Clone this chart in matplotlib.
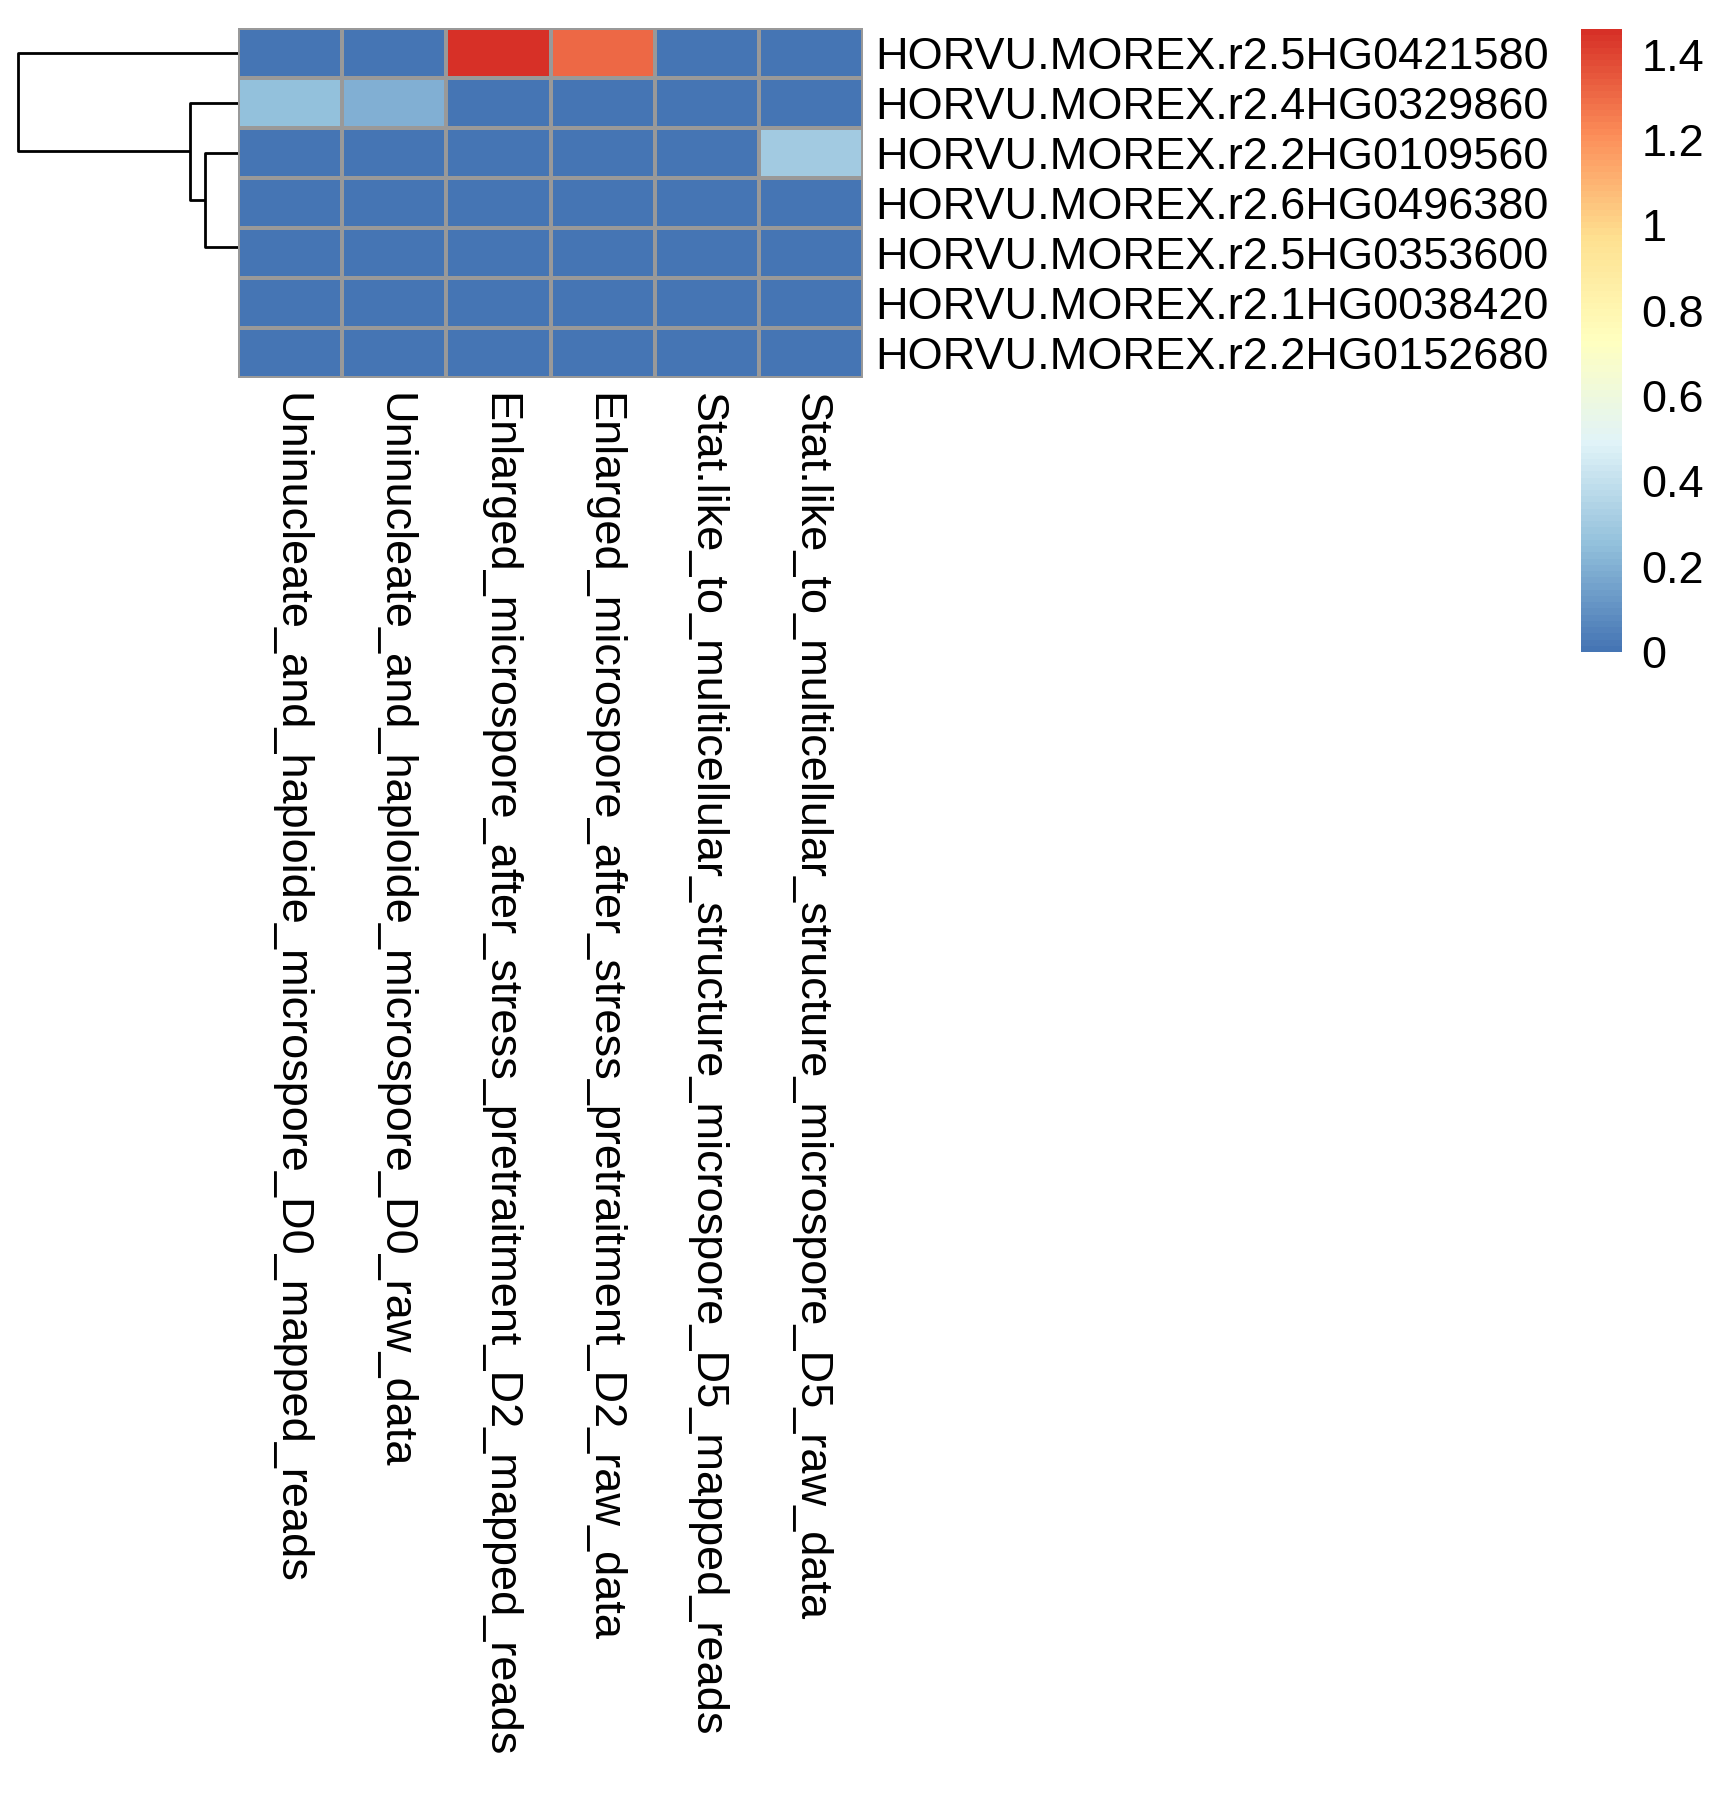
import numpy as np
import matplotlib
matplotlib.use("Agg")
import matplotlib.pyplot as plt
from matplotlib.colors import LinearSegmentedColormap

plt.rcParams["font.family"] = ["Liberation Sans", "DejaVu Sans"]

# Data (rows in displayed order)
genes = [
    "HORVU.MOREX.r2.5HG0421580",
    "HORVU.MOREX.r2.4HG0329860",
    "HORVU.MOREX.r2.2HG0109560",
    "HORVU.MOREX.r2.6HG0496380",
    "HORVU.MOREX.r2.5HG0353600",
    "HORVU.MOREX.r2.1HG0038420",
    "HORVU.MOREX.r2.2HG0152680",
]
samples = [
    "Uninucleate_and_haploide_microspore_D0_mapped_reads",
    "Uninucleate_and_haploide_microspore_D0_raw_data",
    "Enlarged_microspore_after_stress_pretraitment_D2_mapped_reads",
    "Enlarged_microspore_after_stress_pretraitment_D2_raw_data",
    "Stat.like_to_multicellular_structure_microspore_D5_mapped_reads",
    "Stat.like_to_multicellular_structure_microspore_D5_raw_data",
]
values = np.array([
    [0.00, 0.00, 1.46, 1.30, 0.00, 0.00],
    [0.25, 0.195, 0.00, 0.00, 0.00, 0.00],
    [0.00, 0.00, 0.00, 0.00, 0.00, 0.295],
    [0.00, 0.00, 0.00, 0.00, 0.00, 0.00],
    [0.00, 0.00, 0.00, 0.00, 0.00, 0.00],
    [0.00, 0.00, 0.00, 0.00, 0.00, 0.00],
    [0.00, 0.00, 0.00, 0.00, 0.00, 0.00],
])
# row tree: pairs of clusters merged in order (leaf ids 0..6, new ids from 7)
merges = [(5, 6), (4, 7), (3, 8), (2, 9), (1, 10), (0, 11)]

palette = ["#4575B4", "#91BFDB", "#E0F3F8", "#FFFFBF", "#FEE090", "#FC8D59", "#D73027"]
cmap = LinearSegmentedColormap.from_list("rdylbu", palette, N=100)

W, H = 1722, 1797
fig = plt.figure(figsize=(W / 100, H / 100), dpi=100)


def px_axes(x0, y0, x1, y1):
    return fig.add_axes([x0 / W, 1 - y1 / H, (x1 - x0) / W, (y1 - y0) / H])


# -------------------------
# Heatmap
# -------------------------
ax = px_axes(238, 27.5, 863, 378)
nrow, ncol = values.shape
vmin, vmax = 0, values.max()
ax.pcolormesh(np.arange(ncol + 1), np.arange(nrow + 1), values, cmap=cmap,
              vmin=vmin, vmax=vmax, edgecolors="#999999", linewidth=1.6)
ax.set_xlim(0, ncol)
ax.set_ylim(nrow, 0)
for s in ax.spines.values():
    s.set_visible(False)
ax.yaxis.tick_right()
ax.set_yticks(np.arange(nrow) + 0.5)
ax.set_yticklabels(genes, fontsize=32.5)
ax.set_xticks(np.arange(ncol) + 0.5)
ax.set_xticklabels(samples, fontsize=32.5, rotation=270, ha="center", va="top")
ax.tick_params(length=0)
ax.tick_params(axis="y", pad=9)
ax.tick_params(axis="x", pad=11)

# -------------------------
# Row dendrogram (complete linkage heights)
# -------------------------
members = {i: [i] for i in range(nrow)}
pos = {i: i + 0.5 for i in range(nrow)}
hgt = {i: 0.0 for i in range(nrow)}
dax = px_axes(17, 27.5, 238, 378)
lines = []
for k, (a, b) in enumerate(merges):
    new = nrow + k
    h = max(np.linalg.norm(values[i] - values[j]) for i in members[a] for j in members[b])
    members[new] = members[a] + members[b]
    pos[new] = (pos[a] + pos[b]) / 2
    hgt[new] = h
    if h > 0:
        lines.append(([hgt[a], h, h, hgt[b]], [pos[a], pos[a], pos[b], pos[b]]))
for xs, ys in lines:
    dax.plot(xs, ys, color="black", lw=2.0, solid_capstyle="butt")
dax.set_xlim(hgt[nrow + len(merges) - 1] * 1.005, 0)
dax.set_ylim(nrow, 0)
dax.axis("off")

# -------------------------
# Colorbar
# -------------------------
cax = px_axes(1581, 29, 1622, 652)
sm = plt.cm.ScalarMappable(cmap=cmap, norm=plt.Normalize(vmin, vmax))
cb = fig.colorbar(sm, cax=cax, ticks=[0, 0.2, 0.4, 0.6, 0.8, 1.0, 1.2, 1.4])
cb.ax.set_yticklabels(["0", "0.2", "0.4", "0.6", "0.8", "1", "1.2", "1.4"], fontsize=32.5)
cb.outline.set_visible(False)
cb.ax.tick_params(length=0, pad=14)

plt.savefig("out.png", dpi=100)
